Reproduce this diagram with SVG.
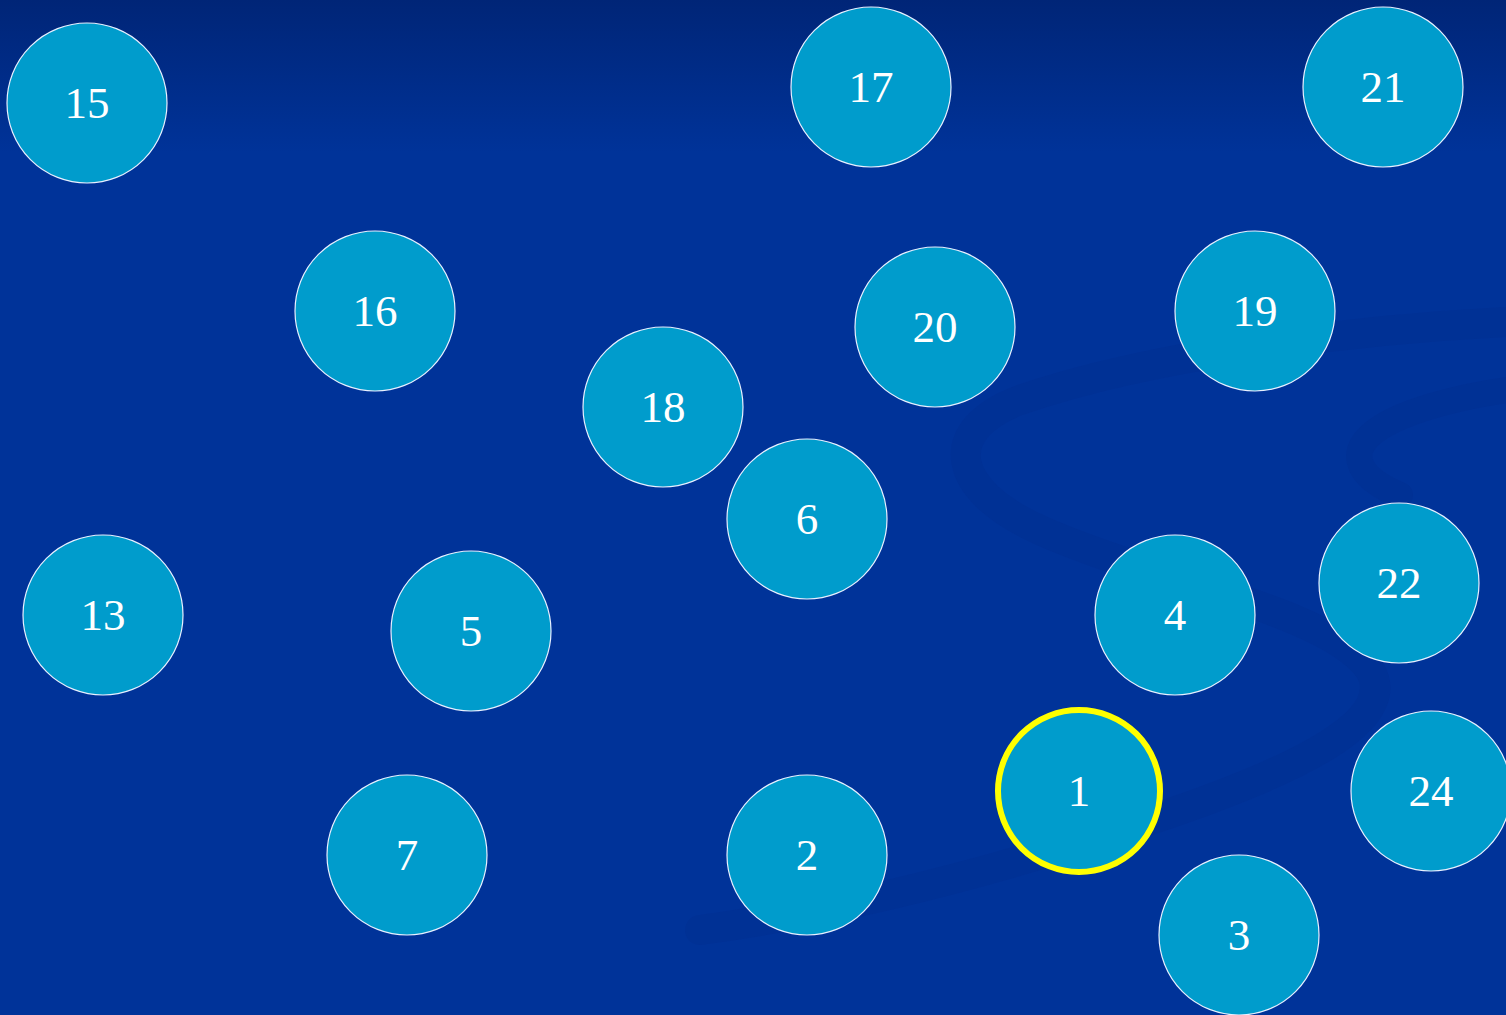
<svg xmlns="http://www.w3.org/2000/svg" width="1506" height="1015" viewBox="0 0 1506 1015">
<defs>
<linearGradient id="bg" x1="0" y1="0" x2="0" y2="1">
<stop offset="0" stop-color="#002577"/>
<stop offset="0.15" stop-color="#003399"/>
<stop offset="1" stop-color="#003399"/>
</linearGradient>
<style>
.n circle{fill:#009ccc;stroke:#e8f0ff;stroke-width:1.2}
.n text{fill:#ffffff;font-family:"Liberation Serif","DejaVu Serif",serif;font-size:45px;text-anchor:middle}
.sel circle{stroke:#ffff00;stroke-width:6}
.swirl{fill:none;stroke:#002f90;stroke-linecap:round;stroke-opacity:0.45}
</style>
</defs>
<rect width="1506" height="1015" fill="url(#bg)"/>
<g id="swirl">
<path class="swirl" stroke-width="30" d="M1506,322 C1350,330 1150,355 1020,400 C940,430 950,490 1040,530 C1150,580 1330,610 1370,670 C1400,720 1300,770 1150,820 C1000,870 850,910 700,930"/>
<path class="swirl" stroke-width="26" d="M1506,390 C1440,400 1370,420 1360,450 C1355,470 1375,485 1400,495"/>
</g>
<g id="connectors"></g>
<g id="n15" class="n"><circle cx="87" cy="103" r="80"/><text x="87" y="118">15</text></g>
<g id="n17" class="n"><circle cx="871" cy="87" r="80"/><text x="871" y="102">17</text></g>
<g id="n21" class="n"><circle cx="1383" cy="87" r="80"/><text x="1383" y="102">21</text></g>
<g id="n16" class="n"><circle cx="375" cy="311" r="80"/><text x="375" y="326">16</text></g>
<g id="n20" class="n"><circle cx="935" cy="327" r="80"/><text x="935" y="342">20</text></g>
<g id="n19" class="n"><circle cx="1255" cy="311" r="80"/><text x="1255" y="326">19</text></g>
<g id="n18" class="n"><circle cx="663" cy="407" r="80"/><text x="663" y="422">18</text></g>
<g id="n6" class="n"><circle cx="807" cy="519" r="80"/><text x="807" y="534">6</text></g>
<g id="n13" class="n"><circle cx="103" cy="615" r="80"/><text x="103" y="630">13</text></g>
<g id="n5" class="n"><circle cx="471" cy="631" r="80"/><text x="471" y="646">5</text></g>
<g id="n4" class="n"><circle cx="1175" cy="615" r="80"/><text x="1175" y="630">4</text></g>
<g id="n22" class="n"><circle cx="1399" cy="583" r="80"/><text x="1399" y="598">22</text></g>
<g id="n1" class="n sel"><circle cx="1079" cy="791" r="81"/><text x="1079" y="806">1</text></g>
<g id="n24" class="n"><circle cx="1431" cy="791" r="80"/><text x="1431" y="806">24</text></g>
<g id="n7" class="n"><circle cx="407" cy="855" r="80"/><text x="407" y="870">7</text></g>
<g id="n2" class="n"><circle cx="807" cy="855" r="80"/><text x="807" y="870">2</text></g>
<g id="n3" class="n"><circle cx="1239" cy="935" r="80"/><text x="1239" y="950">3</text></g>
</svg>
